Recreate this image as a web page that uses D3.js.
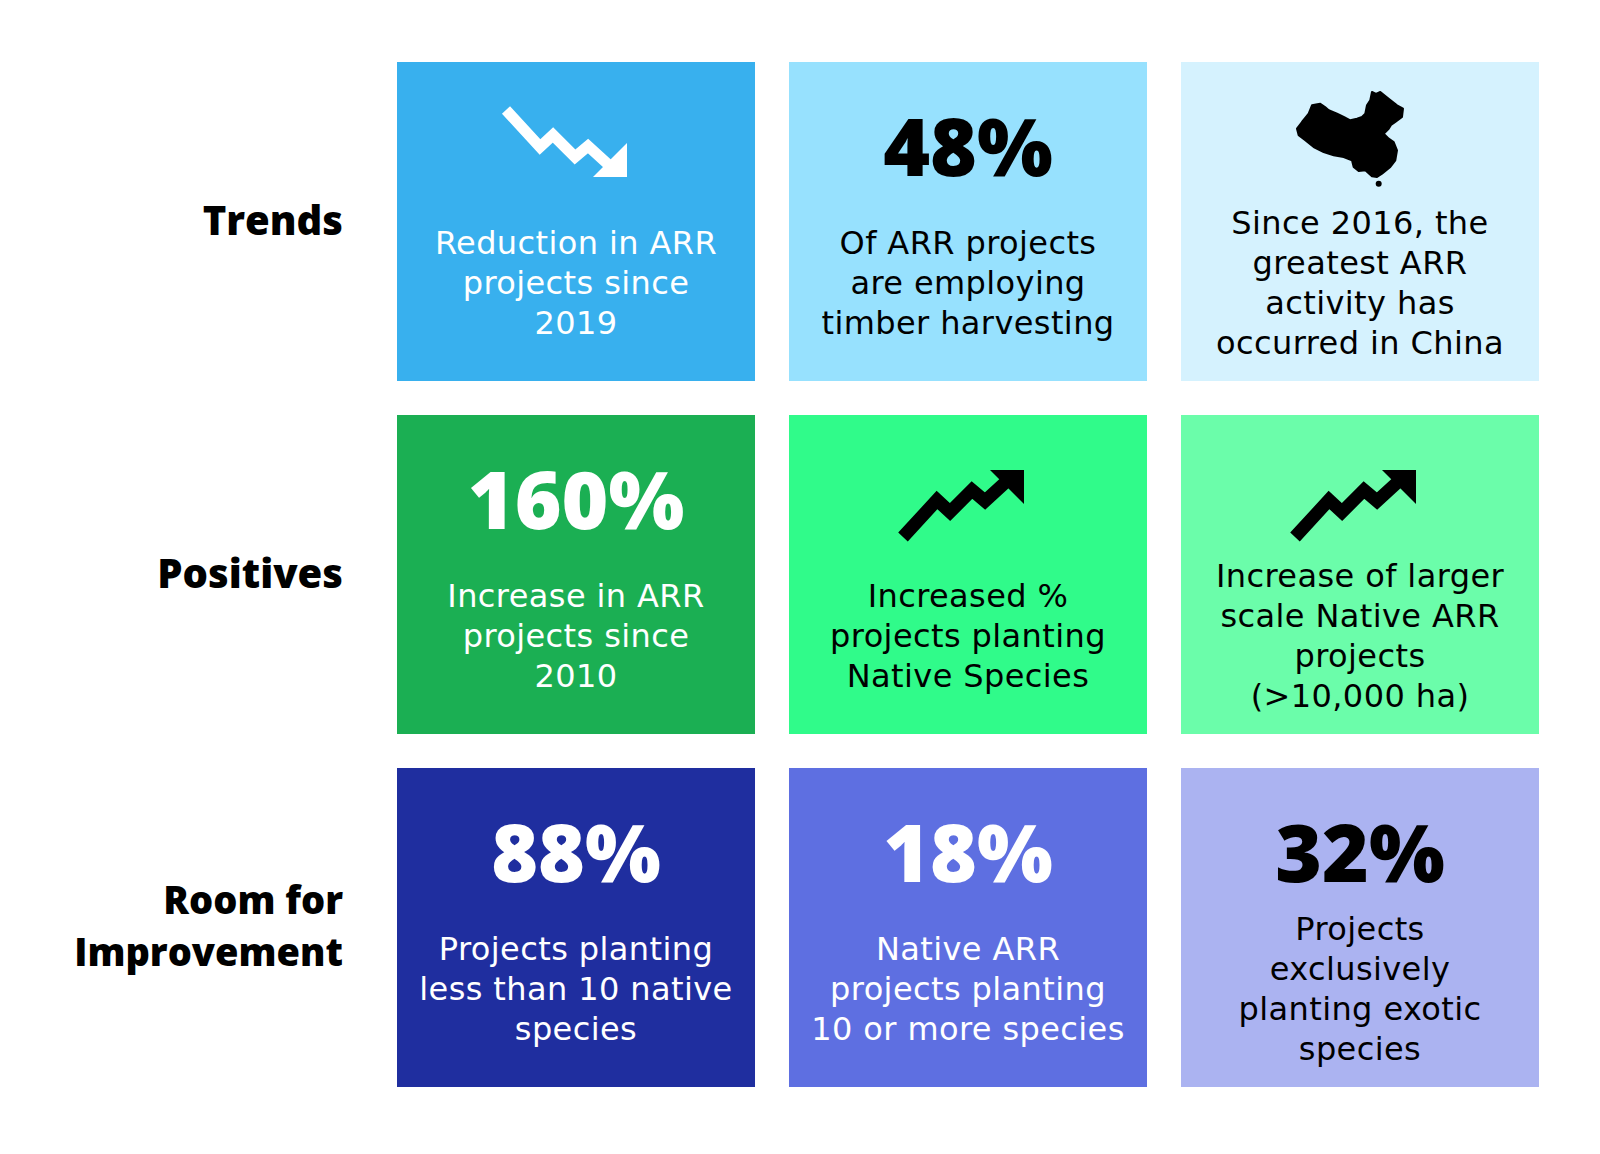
<!DOCTYPE html>
<html>
<head>
<meta charset="utf-8">
<script src="https://cdn.jsdelivr.net/npm/d3@7"></script>
<style>
  body { margin: 0; background: #fff; }
  svg { display: block; }
  .row-label { font-family: "Open Sans", sans-serif; font-weight: 800; font-size: 40px; fill: #000; }
  .row-label.multi { font-size: 38px; }
  .big { font-family: "Open Sans", sans-serif; font-weight: 800; font-size: 80px; }
  .body { font-family: "DejaVu Sans", sans-serif; font-size: 32px; letter-spacing: 0.4px; }
</style>
</head>
<body>
<div id="chart"></div>
<script>
// 行标签（可多行）
const rowLabels = [["Trends"], ["Positives"], ["Room for", "Improvement"]];
const colKeys = [0, 1, 2];

// 九宫格内容，按行排列
const tileHeadlines = ["", "48%", "", "160%", "", "", "88%", "18%", "32%"];
const tileIcons = ["down", "", "china", "", "up", "up", "", "", ""];
const tileBodies = [
    ["Reduction in ARR", "projects since", "2019"],
    ["Of ARR projects", "are employing", "timber harvesting"],
    ["Since 2016, the", "greatest ARR", "activity has", "occurred in China"],
    ["Increase in ARR", "projects since", "2010"],
    ["Increased %", "projects planting", "Native Species"],
    ["Increase of larger", "scale Native ARR", "projects", "(>10,000 ha)"],
    ["Projects planting", "less than 10 native", "species"],
    ["Native ARR", "projects planting", "10 or more species"],
    ["Projects", "exclusively", "planting exotic", "species"]
];
const tileFills = ["#38b0ee", "#97e1fe", "#d5f2fe",
                   "#1baf53", "#30fb8a", "#6bfdaa",
                   "#1f2e9f", "#5e6fe1", "#abb3f1"];
const tileInk = ["#ffffff", "#000000", "#000000",
                 "#ffffff", "#000000", "#000000",
                 "#ffffff", "#ffffff", "#000000"];

// 图标形状（局部坐标）
const arrowLine = [[3, 5], [37, 42], [50, 30], [72, 52], [85, 41], [108, 62]];
const arrowHead = [[124, 38], [124, 72], [90, 72]];
const chinaOutline = [
    [0, 36.7], [5, 30], [11.7, 21.7], [15, 13.3], [19, 12.5], [23.3, 11.7], [28, 15], [31.7, 18.3],
    [40, 21.7], [46.7, 25], [53.3, 28.3], [60, 26.7], [65, 25], [68.3, 21.7], [70, 13.3],
    [73.3, 8.3], [75, 0], [79, 2], [83.3, 0], [91.7, 6.7], [100, 13.3], [106, 16.7],
    [105, 25], [98.3, 30], [94, 33], [91.7, 36.7], [86.7, 41.7], [91.7, 46.7], [96.7, 50],
    [100, 58.3], [98.3, 68.3], [93.3, 75], [85, 81.7], [80, 85], [75, 84.3], [68.3, 78.3],
    [61.7, 79], [56.7, 75], [55, 68.3], [46.7, 65], [36.7, 63.3], [26.7, 60], [16.7, 55],
    [8.3, 48.3], [1.7, 43.3]
];

const width = 1600;
const height = 1154;

const svg = d3.select('#chart').append('svg')
    .attr('width', width)
    .attr('height', height);

svg.append('rect')
    .attr('width', width)
    .attr('height', height)
    .attr('fill', '#fff');

// 网格比例尺
const xScale = d3.scaleBand()
    .domain(colKeys)
    .range([397, 1539])
    .paddingInner(0.0867);

const yScale = d3.scaleBand()
    .domain(d3.range(rowLabels.length))
    .range([62, 1087])
    .paddingInner(0.0963);

const bw = xScale.bandwidth();
const bh = yScale.bandwidth();

// 行标签：每行一个 text，多行时分开放置
const lineGap = 52;
rowLabels.forEach((lines, r) => {
    const n = lines.length;
    svg.selectAll('.row-label-' + r)
        .data(lines)
        .enter()
        .append('text')
        .attr('class', 'row-label' + (n > 1 ? ' multi' : ''))
        .attr('text-anchor', 'end')
        .attr('x', xScale(0) - 54)
        .attr('y', (d, i) => yScale(r) + bh / 2 + 13 + (i - (n - 1) / 2) * lineGap)
        .text(d => d);
});

// 方块
const tiles = tileBodies.map((body, i) => ({
    row: Math.floor(i / 3),
    col: i % 3,
    headline: tileHeadlines[i],
    icon: tileIcons[i],
    body: body,
    fill: tileFills[i],
    ink: tileInk[i]
}));

const g = svg.selectAll('.tile')
    .data(tiles)
    .enter()
    .append('g')
    .attr('class', 'tile')
    .attr('transform', d => `translate(${xScale(d.col)},${yScale(d.row)})`);

g.append('rect')
    .attr('width', bw)
    .attr('height', bh)
    .attr('fill', d => d.fill);

// 大数字
g.filter(d => d.headline)
    .append('text')
    .attr('class', 'big')
    .attr('x', bw / 2)
    .attr('y', 114)
    .attr('text-anchor', 'middle')
    .attr('fill', d => d.ink)
    .text(d => d.headline);

// 说明文字
g.each(function(d) {
    const n = d.body.length;
    d3.select(this).selectAll('.body')
        .data(d.body)
        .enter()
        .append('text')
        .attr('class', 'body')
        .attr('x', bw / 2)
        .attr('y', (t, i) => 232 + (i - (n - 1) / 2) * 40)
        .attr('text-anchor', 'middle')
        .attr('fill', d.ink)
        .text(t => t);
});

// 趋势箭头
const line = d3.line();

function drawArrow(sel, flip, ox, oy, color, sw) {
    const fy = p => [p[0], flip ? 72 - p[1] : p[1]];
    const ig = sel.append('g').attr('transform', `translate(${ox},${oy})`);
    ig.append('path')
        .attr('d', line(arrowLine.map(fy)))
        .attr('fill', 'none')
        .attr('stroke', color)
        .attr('stroke-width', sw)
        .attr('stroke-linejoin', 'miter');
    ig.append('path')
        .attr('d', line(arrowHead.map(fy)) + 'Z')
        .attr('fill', color);
}

g.filter(d => d.icon === 'down').each(function(d) {
    drawArrow(d3.select(this), false, 106, 43, d.ink, 11);
});

g.filter(d => d.icon === 'up').each(function(d) {
    drawArrow(d3.select(this), true, 111, 55, d.ink, 13);
});

// 中国地图轮廓
g.filter(d => d.icon === 'china').each(function(d) {
    const ig = d3.select(this).append('g').attr('transform', 'translate(116,30)');
    ig.append('path')
        .attr('d', d3.line().curve(d3.curveLinearClosed)(chinaOutline))
        .attr('fill', d.ink)
        .attr('stroke', d.ink)
        .attr('stroke-width', 2)
        .attr('stroke-linejoin', 'round');
    ig.append('circle')
        .attr('cx', 81.7)
        .attr('cy', 91.7)
        .attr('r', 3)
        .attr('fill', d.ink);
});
</script>
</body>
</html>
